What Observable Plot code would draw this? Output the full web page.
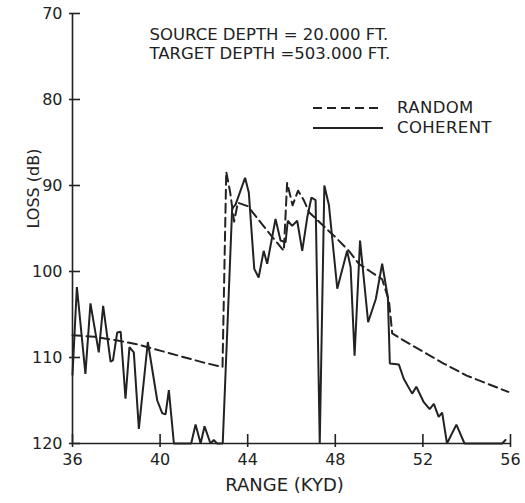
<!DOCTYPE html>
<html><head><meta charset="utf-8">
<script src="https://cdn.jsdelivr.net/npm/d3@7"></script>
<script src="https://cdn.jsdelivr.net/npm/@observablehq/plot@0.6"></script>
<style>
body{margin:0;background:#fff;}
#wrap{position:relative;width:525px;height:503px;font-family:"DejaVu Sans",sans-serif;color:#222;}
.leg{position:absolute;left:313px;display:flex;align-items:center;font-size:16.5px;line-height:18px;height:18px;}
.leg span{margin-left:14px;letter-spacing:0.4px;}
</style></head><body><div id="wrap"></div>
<script>
// ---- data ----
const coherentRange = [36.0, 36.2, 36.59, 36.82, 37.2, 37.4, 37.74, 37.85, 38.04, 38.2, 38.42, 38.6, 38.8, 39.03, 39.44, 39.87, 40.1, 40.25, 40.4, 40.63, 41.42, 41.62, 41.85, 42.03, 42.3, 42.45, 42.6, 42.86, 43.29, 43.45, 43.88, 44.05, 44.3, 44.5, 44.73, 44.89, 45.27, 45.5, 45.73, 45.83, 46.03, 46.26, 46.49, 46.72, 46.91, 47.1, 47.29, 47.5, 47.71, 48.09, 48.54, 48.7, 48.88, 49.13, 49.5, 49.85, 50.14, 50.4, 50.49, 50.9, 51.13, 51.51, 51.7, 52.04, 52.31, 52.5, 52.72, 52.88, 53.1, 53.53, 53.9, 55.62, 55.77];
const coherentLoss  = [112.0, 101.8, 111.9, 103.7, 109.4, 104.0, 110.5, 110.3, 107.1, 107.0, 114.8, 108.8, 109.4, 118.3, 108.2, 115.0, 116.5, 116.6, 113.8, 120, 120, 117.8, 120, 118.0, 120, 119.6, 120, 120, 92.7, 92.2, 89.1, 90.8, 99.7, 100.7, 97.6, 99.1, 93.9, 96.4, 96.6, 94.1, 94.7, 94.1, 97.6, 93.7, 91.4, 91.7, 120, 90.0, 92.3, 102.0, 97.6, 99.5, 109.8, 96.4, 105.9, 103.2, 99.1, 103.0, 110.7, 110.8, 112.5, 114.2, 113.4, 115.2, 116.0, 115.4, 116.9, 116.4, 120, 117.8, 120, 120, 119.6];

const randomRange = [36.0, 37.0, 38.0, 39.0, 40.0, 41.0, 42.0, 42.85, 43.02, 43.2, 43.38, 43.55, 44.0, 44.5, 45.0, 45.65, 45.8, 46.05, 46.3, 46.56, 46.8, 47.5, 48.0, 48.62, 49.07, 49.6, 50.14, 50.3, 50.45, 50.6, 50.98, 52.0, 52.95, 54.0, 55.0, 55.9];
const randomLoss  = [107.4, 107.6, 108.0, 108.5, 109.2, 109.9, 110.6, 111.1, 88.4, 90.8, 94.2, 92.0, 92.4, 94.0, 95.6, 97.6, 89.7, 92.3, 90.6, 91.7, 93.1, 94.8, 96.0, 97.6, 99.1, 100.0, 100.9, 102.2, 103.4, 107.2, 107.8, 109.3, 110.7, 112.1, 113.1, 114.0];

const xTicks = [36, 40, 44, 48, 52, 56];
const yTicks = [70, 80, 90, 100, 110, 120];
const seriesNames = ["RANDOM", "COHERENT"];
const annotationLines = ["SOURCE DEPTH = 20.000 FT.", "TARGET DEPTH =503.000 FT."];
const xTitle = "RANGE (KYD)";
const yTitle = "LOSS (dB)";

// ---- build ----
const coherent = coherentRange.map((r, i) => ({range: r, loss: coherentLoss[i]}));
const random = randomRange.map((r, i) => ({range: r, loss: randomLoss[i]}));
const ink = "#222";
const W = 525, H = 503, mL = 72, mR = 15, mT = 13, mB = 60;
const plotW = W - mL - mR, plotH = H - mT - mB;

const chart = Plot.plot({
  width: W, height: H, marginLeft: mL, marginRight: mR, marginTop: mT, marginBottom: mB,
  style: {fontFamily: "DejaVu Sans, sans-serif", fontSize: "16px", color: ink, background: "white"},
  x: {domain: [36, 56]},
  y: {domain: [70, 120], reverse: true},
  marks: [
    Plot.ruleX([36], {stroke: ink, strokeWidth: 1.6}),
    Plot.ruleY([120], {stroke: ink, strokeWidth: 1.6}),
    Plot.tickY(yTicks, {y: d => d, stroke: ink, strokeWidth: 1.6, insetLeft: -3, insetRight: plotW - 8}),
    Plot.tickX(xTicks, {x: d => d, stroke: ink, strokeWidth: 1.6, insetTop: plotH - 9, insetBottom: -4}),
    Plot.axisX({ticks: xTicks, tickSize: 0, tickPadding: 10, fontSize: 16, label: null}),
    Plot.axisY({ticks: yTicks, tickSize: 0, tickPadding: 10, fontSize: 16, label: null}),
    Plot.line(random, {x: "range", y: "loss", stroke: ink, strokeWidth: 2, strokeDasharray: "9,5"}),
    Plot.line(coherent, {x: "range", y: "loss", stroke: ink, strokeWidth: 2, strokeLinejoin: "miter"}),
    Plot.text([xTitle], {frameAnchor: "bottom", dx: -7, dy: 47, fontSize: 18, fill: ink}),
    Plot.text([yTitle], {frameAnchor: "left", dx: -39, rotate: -90, fontSize: 16, fill: ink}),
    Plot.text([annotationLines.join("\n")], {frameAnchor: "top-left", dx: 77, dy: 12, textAnchor: "start", lineAnchor: "top", lineHeight: 1.2, fontSize: 16.5, fill: ink})
  ]
});
const wrap = document.getElementById("wrap");
wrap.appendChild(chart);

// in-chart legend
const legTops = [99, 119];
const dashes = ["9,5", null];
seriesNames.forEach((name, i) => {
  const row = document.createElement("div");
  row.className = "leg";
  row.style.top = legTops[i] + "px";
  row.innerHTML = `<svg width="70" height="6"><line x1="0" y1="3" x2="70" y2="3" stroke="${ink}" stroke-width="2" ${dashes[i] ? `stroke-dasharray="${dashes[i]}"` : ""}/></svg><span>${name}</span>`;
  wrap.appendChild(row);
});
</script>
</body></html>
